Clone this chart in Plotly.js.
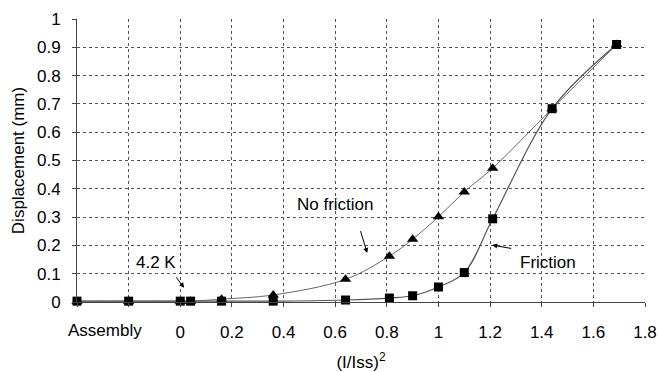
<!DOCTYPE html>
<html>
<head>
<meta charset="utf-8">
<script src="https://cdn.plot.ly/plotly-3.0.1.min.js"></script>
<style>html,body{margin:0;padding:0;background:#fff;}#chart{width:659px;height:372px;}</style>
</head>
<body>
<div id="chart"></div>
<script>
// x positions: -0.4 = "Assembly", -0.2 = unlabeled step, then (I/Iss)^2
const xFriction = [-0.4, -0.2, 0, 0.04, 0.16, 0.36, 0.64, 0.81, 0.9, 1.0, 1.1, 1.21, 1.44, 1.69];
const yFriction = [0.003, 0.003, 0.003, 0.003, 0.003, 0.003, 0.007, 0.014, 0.022, 0.053, 0.104, 0.294, 0.683, 0.91];
const xNoFriction = [-0.4, -0.2, 0, 0.04, 0.16, 0.36, 0.64, 0.81, 0.9, 1.0, 1.1, 1.21, 1.44, 1.69];
const yNoFriction = [0.003, 0.003, 0.003, 0.003, 0.01, 0.025, 0.08, 0.162, 0.222, 0.301, 0.389, 0.473, 0.683, 0.91];
const xTickVals = [-0.4, -0.2, 0, 0.2, 0.4, 0.6, 0.8, 1, 1.2, 1.4, 1.6, 1.8];
const xTickText = ["", "", "0", "0.2", "0.4", "0.6", "0.8", "1", "1.2", "1.4", "1.6", "1.8"];
const assemblyLabel = "Assembly";
const yTickVals = [0, 0.1, 0.2, 0.3, 0.4, 0.5, 0.6, 0.7, 0.8, 0.9, 1];
const yTickText = ["0", "0.1", "0.2", "0.3", "0.4", "0.5", "0.6", "0.7", "0.8", "0.9", "1"];

const font = {family: "Liberation Sans, Arial, sans-serif", size: 17, color: "#000"};

const traces = [
  {x: xNoFriction, y: yNoFriction, type: "scatter", mode: "lines+markers", cliponaxis: false,
   line: {color: "#666", width: 1, shape: "spline", smoothing: 1},
   marker: {symbol: "triangle-up", size: 10, color: "#000"}},
  {x: xFriction, y: yFriction, type: "scatter", mode: "lines+markers", cliponaxis: false,
   line: {color: "#555", width: 1.2, shape: "spline", smoothing: 1},
   marker: {symbol: "square", size: 9, color: "#000"}}
];

const layout = {
  width: 659, height: 372,
  margin: {l: 77, r: 14, t: 19, b: 70},
  paper_bgcolor: "#fff", plot_bgcolor: "#fff",
  showlegend: false,
  font: font,
  xaxis: {
    range: [-0.4, 1.8], tickmode: "array", tickvals: xTickVals, ticktext: xTickText,
    showgrid: true, gridcolor: "#555", griddash: "dot", gridwidth: 1,
    zeroline: false, showline: true, linecolor: "#444", linewidth: 1,
    ticks: "outside", ticklen: 4, tickcolor: "#444", ticklabelstandoff: 11,
    title: {text: "(I/Iss)<sup>2</sup>", font: font, standoff: 16}
  },
  yaxis: {
    range: [0, 1], tickmode: "array", tickvals: yTickVals, ticktext: yTickText,
    showgrid: true, gridcolor: "#555", griddash: "dot", gridwidth: 1,
    zeroline: false, showline: true, linecolor: "#444", linewidth: 1,
    ticks: "outside", ticklen: 4, tickcolor: "#444", ticklabelstandoff: 8,
    title: {text: "Displacement (mm)", font: font, standoff: 8}
  },
  annotations: [
    {x: -0.4, xref: "x", y: 0, yref: "paper", xanchor: "left", yanchor: "top", xshift: -11, yshift: -17,
     text: assemblyLabel, showarrow: false, font: font},
    {x: -0.093, y: 0.138, text: "4.2 K", showarrow: false, font: font},
    {x: 0.015, y: 0.05, text: " ", showarrow: true, ax: -12, ay: -16, arrowhead: 2, arrowsize: 1, arrowwidth: 1, arrowcolor: "#000"},
    {x: 0.60, y: 0.343, text: "No friction", showarrow: false, font: font},
    {x: 0.724, y: 0.173, text: " ", showarrow: true, ax: -10, ay: -33, arrowhead: 2, arrowsize: 1, arrowwidth: 1, arrowcolor: "#000"},
    {x: 1.425, y: 0.141, text: "Friction", showarrow: false, font: font},
    {x: 1.208, y: 0.201, text: " ", showarrow: true, ax: 23, ay: 4, arrowhead: 2, arrowsize: 1, arrowwidth: 1, arrowcolor: "#000"}
  ]
};

Plotly.newPlot("chart", traces, layout, {displayModeBar: false, staticPlot: true});
</script>
</body>
</html>
